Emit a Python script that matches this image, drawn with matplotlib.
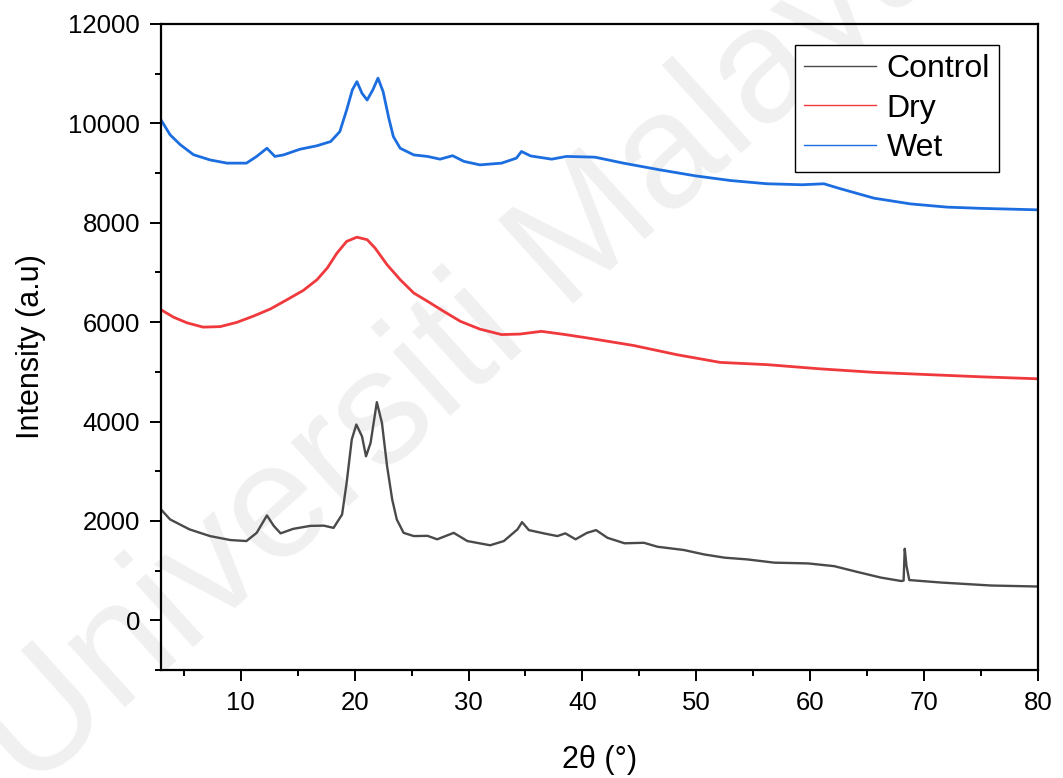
import matplotlib
matplotlib.use("Agg")
import matplotlib.pyplot as plt
from matplotlib.ticker import MultipleLocator

plt.rcParams['font.family'] = ['Liberation Sans', 'DejaVu Sans']

# ---- data ----
control_x = [3.0, 3.8, 5.5, 7.3, 9.1, 10.5, 11.4, 12.3, 12.9, 13.5, 14.6, 16.1, 17.3, 18.15,
             18.9, 19.3, 19.75, 20.15, 20.65, 21.0, 21.4, 21.95, 22.4, 22.85, 23.3, 23.7, 24.3,
             25.2, 26.4, 27.25, 28.7, 29.9, 31.9, 33.1, 34.3, 34.7, 35.3, 36.6, 37.8, 38.5, 39.4,
             40.4, 41.2, 42.2, 43.7, 45.4, 46.6, 48.9, 50.7, 52.5, 54.5, 56.85, 59.8, 62.1, 64.2,
             66.2, 68.0, 68.2, 68.3, 68.45, 68.7, 71.5, 75.9, 80.0]
control_y = [2230, 2030, 1830, 1695, 1615, 1595, 1760, 2110, 1900, 1750, 1840, 1900, 1905, 1860,
             2130, 2770, 3640, 3940, 3700, 3300, 3570, 4390, 3970, 3100, 2430, 2030, 1760,
             1695, 1700, 1630, 1760, 1595, 1510, 1595, 1830, 1975, 1815, 1750, 1695, 1750, 1630,
             1760, 1815, 1660, 1550, 1560, 1480, 1415, 1325, 1260, 1225, 1160, 1145, 1090, 970,
             860, 790, 800, 1440, 1100, 810, 760, 700, 680]

dry_x = [3.0, 4.1, 5.3, 6.7, 8.2, 9.65, 11.1, 12.6, 14.05, 15.5, 16.7, 17.6, 18.45, 19.3, 20.2,
         21.1, 21.8, 22.85, 24.0, 25.2, 26.4, 27.8, 29.3, 31.0, 32.9, 34.5, 36.4, 38.5, 40.5,
         44.5, 48.3, 52.1, 56.2, 60.9, 65.6, 70.3, 75.0, 80.0]
dry_y = [6250, 6100, 5985, 5900, 5910, 5995, 6120, 6265, 6450, 6640, 6855, 7090, 7390, 7625, 7710,
         7660, 7490, 7155, 6855, 6585, 6420, 6220, 6015, 5860, 5750, 5760, 5815, 5750, 5680,
         5530, 5345, 5190, 5145, 5060, 4990, 4945, 4900, 4860]

wet_x = [3.0, 3.8, 4.7, 5.85, 7.3, 8.8, 10.5, 11.4, 12.3, 13.0, 13.75, 15.2, 16.7, 17.9, 18.7,
         19.3, 19.8, 20.2, 20.65, 21.1, 21.6, 22.05, 22.5, 23.0, 23.4, 24.0, 25.2, 26.4, 27.5,
         28.6, 29.6, 31.0, 32.9, 34.2, 34.65, 35.45, 37.3, 38.6, 41.1, 43.6, 46.8, 49.9, 53.0,
         56.2, 59.3, 61.2, 62.5, 65.6, 68.8, 72.0, 75.0, 80.0]
wet_y = [10070, 9770, 9570, 9370, 9265, 9200, 9200, 9335, 9500, 9335, 9365, 9480, 9550, 9635, 9835,
         10270, 10675, 10840, 10605, 10470, 10675, 10910, 10640, 10105, 9735, 9500, 9365, 9335, 9280,
         9350, 9235, 9165, 9200, 9300, 9435, 9345, 9280, 9335, 9320, 9200, 9065, 8945, 8850,
         8785, 8765, 8785, 8695, 8495, 8380, 8315, 8290, 8260]

series_labels = ["Control", "Dry", "Wet"]
x_label = "2θ (°)"
y_label = "Intensity (a.u)"

W, H = 1063, 778
fig = plt.figure(figsize=(W / 100, H / 100), dpi=100)
fig.patch.set_facecolor('white')

# watermark
fig.text(465 / W, 1 - 345 / H, "Universiti Malaya", rotation=42, fontsize=118,
         color='#f0f0f0', ha='center', va='center', zorder=0)

ax = fig.add_axes([161 / W, 1 - 670 / H, (1038 - 161) / W, (670 - 24) / H])
ax.set_zorder(1)
ax.patch.set_alpha(0)

ax.plot(control_x, control_y, color='#4a4a4a', lw=1.7, label=series_labels[0])
ax.plot(dry_x, dry_y, color='#f0393c', lw=2.0, label=series_labels[1])
ax.plot(wet_x, wet_y, color='#1c6ee0', lw=2.0, label=series_labels[2])

ax.set_xlim(3, 80)
ax.set_ylim(-1000, 12000)
ax.xaxis.set_major_locator(MultipleLocator(10))
ax.xaxis.set_minor_locator(MultipleLocator(5))
ax.yaxis.set_major_locator(MultipleLocator(2000))
ax.yaxis.set_minor_locator(MultipleLocator(1000))

for s in ax.spines.values():
    s.set_linewidth(1.6)
    s.set_color('black')
ax.tick_params(which='major', direction='out', length=8, width=1.4, labelsize=18.5, pad=7,
               top=False, right=False)
ax.tick_params(which='minor', direction='out', length=4.5, width=1.4, top=False, right=False)

ax.set_xlabel(x_label, fontsize=22, labelpad=22)
ax.set_ylabel(y_label, fontsize=22, labelpad=16)

leg = ax.legend(loc='upper right', bbox_to_anchor=((999 - 161) / 877, (670 - 45) / 646),
                borderaxespad=0, fontsize=23, handlelength=2.25, handletextpad=0.35,
                labelspacing=0.3, fancybox=False, framealpha=1, edgecolor='black',
                borderpad=0.28)
leg.get_frame().set_linewidth(1.0)
for l in leg.get_lines():
    l.set_linewidth(1.0)

fig.savefig("out.png", dpi=100)
